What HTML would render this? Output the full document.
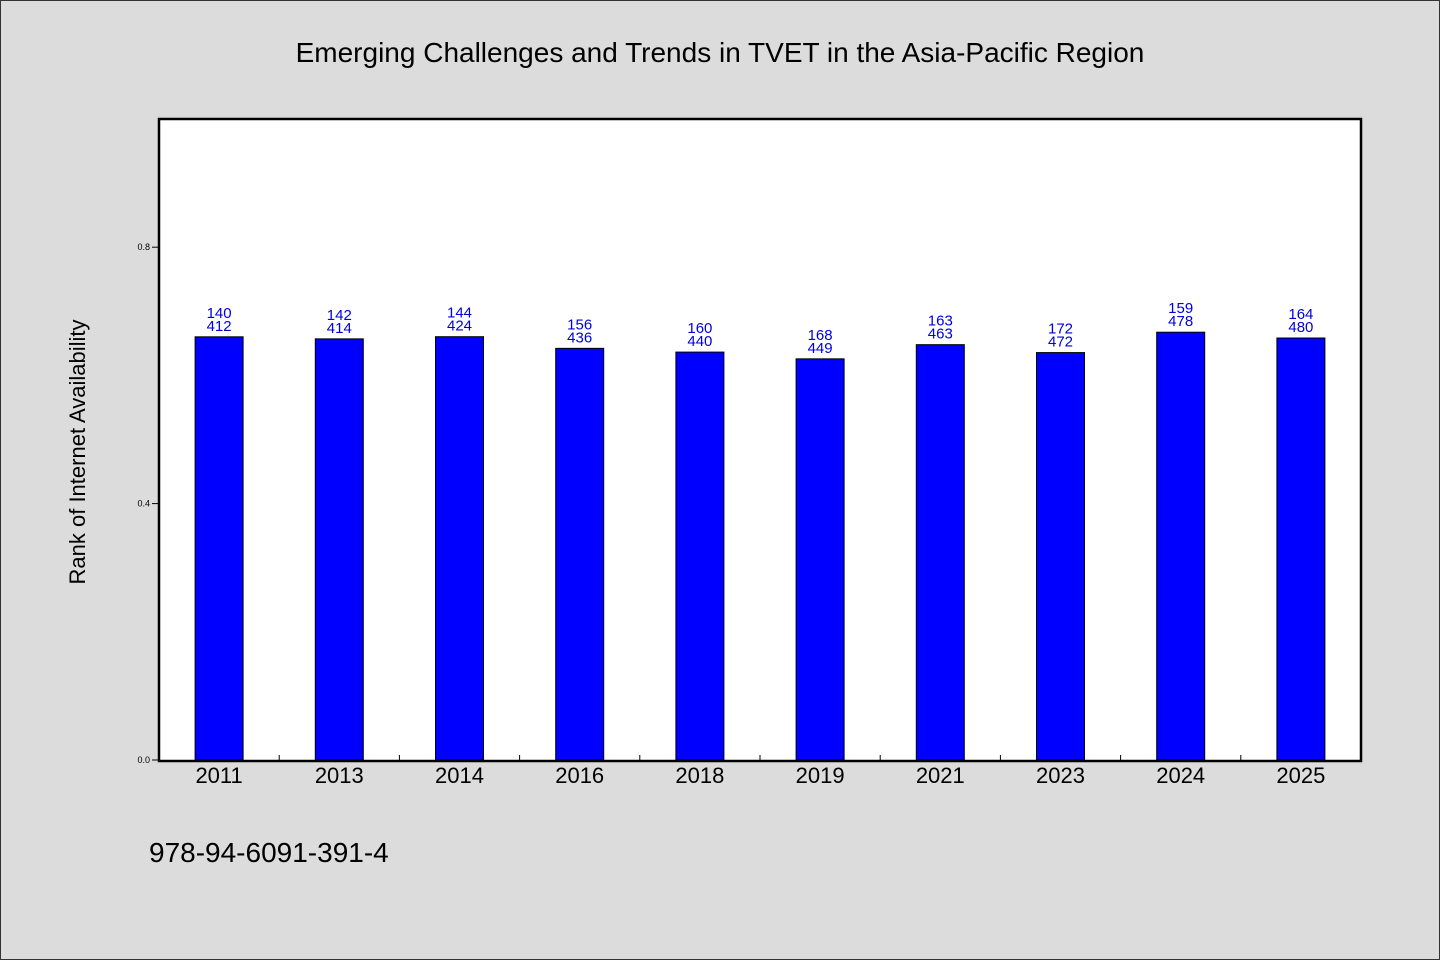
<!DOCTYPE html>
<html><head><meta charset="utf-8"><style>
html,body{margin:0;padding:0;background:#dcdcdc;}
svg{display:block;}
text{font-family:"WenQuanYi Zen Hei","Liberation Sans",sans-serif;}
</style></head><body>
<svg width="1440" height="960" xmlns="http://www.w3.org/2000/svg">
<rect x="0.5" y="0.5" width="1439" height="959" fill="#dcdcdc" stroke="#333"/>
<text x="720" y="62" font-size="28" text-anchor="middle">Emerging Challenges and Trends in TVET in the Asia-Pacific Region</text>
<rect x="159" y="119" width="1202" height="642" fill="#fff"/>
<g id="marks"></g>
<rect x="159" y="119" width="1202" height="642" fill="none" stroke="#000" stroke-width="2.5"/>
<text transform="translate(85,452) rotate(-90)" font-size="22" text-anchor="middle">Rank of Internet Availability</text>
<text x="149" y="862" font-size="28">978-94-6091-391-4</text>
</svg>
<script>
const categories = ["2011","2013","2014","2016","2018","2019","2021","2023","2024","2025"];
const ranks = [140,142,144,156,160,168,163,172,159,164];
const totals = [412,414,424,436,440,449,463,472,478,480];
const yTicks = [0.0,0.4,0.8];
const NS="http://www.w3.org/2000/svg";
const X0=159,W=1202,Y0=760,H=641;
const band=W/categories.length;
function xc(i){return X0+band*(i+0.5);}
function y(v){return Y0-v*H;}
const g=document.getElementById('marks');
function mk(tag,attrs){const e=document.createElementNS(NS,tag);for(const k in attrs)e.setAttribute(k,attrs[k]);g.appendChild(e);return e;}
yTicks.forEach(t=>{
  const l=mk('line',{x1:152,x2:159,y1:y(t),y2:y(t),stroke:'#000'});
  
  
  const tx=mk('text',{x:150,y:y(t)+3,'font-size':9,'text-anchor':'end'});
  tx.textContent=t.toFixed(1);
  
  
});
categories.forEach((c,i)=>{
  const v=1-ranks[i]/totals[i];
  const bw=48;
  const r=mk('rect',{x:xc(i)-bw/2,y:y(v),width:bw,height:Y0-y(v),fill:'#0000ff',stroke:'#000','stroke-width':1});
  
  
  const t1=mk('text',{x:xc(i),y:y(v)-19,'font-size':15,'text-anchor':'middle',fill:'#0000dd'});
  t1.textContent=ranks[i];
  
  
  const t2=mk('text',{x:xc(i),y:y(v)-6,'font-size':15,'text-anchor':'middle',fill:'#0000dd'});
  t2.textContent=totals[i];
  
  
  const xl=mk('text',{x:xc(i),y:783,'font-size':22,'text-anchor':'middle'});
  xl.textContent=c;
  
  
  if(i>0){
    const tk=mk('line',{x1:X0+band*i,x2:X0+band*i,y1:755,y2:761,stroke:'#000'});
    
    
  }
});
</script>
</body></html>
